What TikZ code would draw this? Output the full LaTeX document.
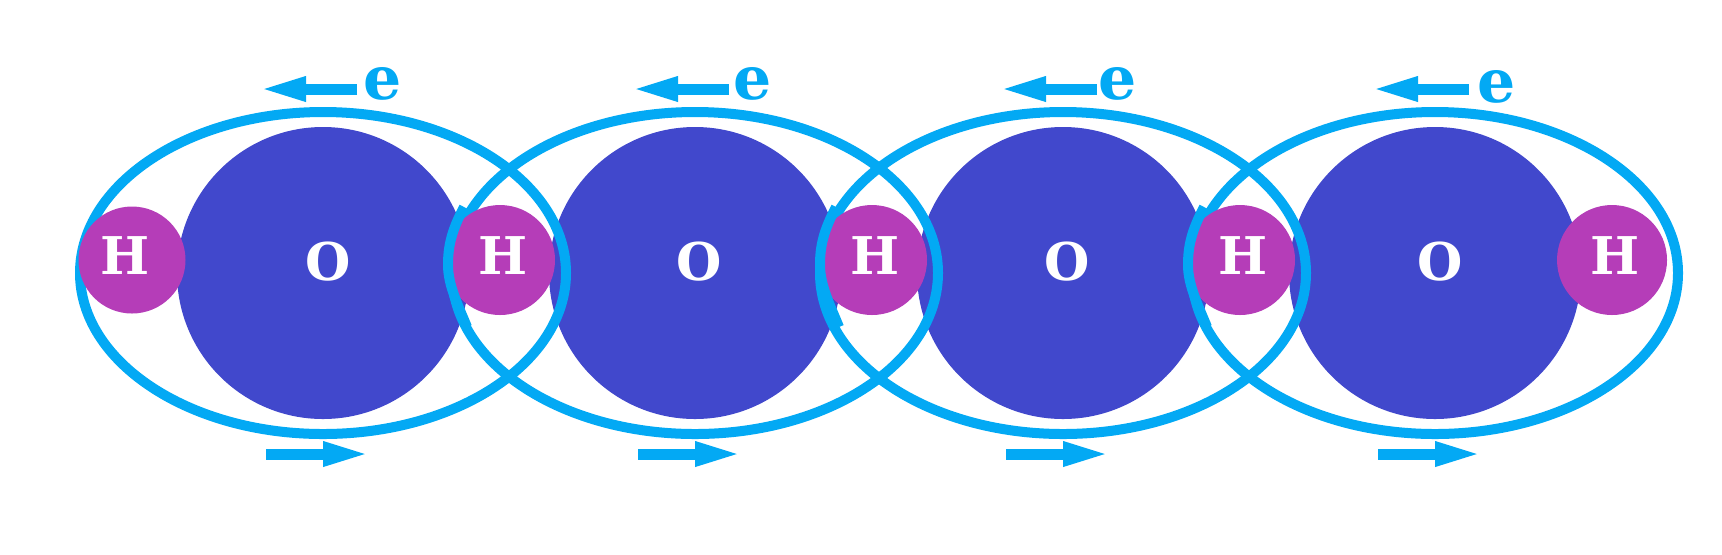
\documentclass[tikz,border=0pt]{standalone}
\usepackage{fontspec}
\setmainfont{DejaVu Serif}
\usetikzlibrary{shapes.geometric, arrows.meta}
\definecolor{orbitblue}{RGB}{3,169,244}
\definecolor{oxygenfill}{RGB}{65,72,204}
\definecolor{hydrogenfill}{RGB}{181,61,184}
\tikzset{
    oxygen/.style={circle, fill=oxygenfill, inner sep=0pt, outer sep=0pt, minimum size=146pt},
    hydrogen/.style={circle, fill=hydrogenfill, inner sep=0pt, outer sep=0pt, minimum size=55pt},
    orbit/.style={ellipse, draw=orbitblue, line width=5pt, inner sep=0pt, outer sep=0pt, minimum width=243pt, minimum height=161pt},
    bond/.style={draw=orbitblue, line width=5pt},
    drift/.style={draw=orbitblue, line width=5.5pt, -{Triangle[length=24pt, width=11pt]}},
    atomlabel/.style={text=white, font=\bfseries\fontsize{26}{26}\selectfont, inner sep=0pt},
    electron/.style={text=orbitblue, font=\bfseries\fontsize{30}{30}\selectfont, inner sep=0pt}
}
\begin{document}
\begin{tikzpicture}[x=0.5pt, y=-0.5pt]
\useasboundingbox (0,0) rectangle (1722,554);

% Oxygen atoms
\node[oxygen] (o1) at (323,273) {};
\node[oxygen] (o2) at (695,273) {};
\node[oxygen] (o3) at (1063,273) {};
\node[oxygen] (o4) at (1435,273) {};

% Electron orbits
\node[orbit] (orbit1) at (323,273) {};
\node[orbit] (orbit2) at (695,273) {};
\node[orbit] (orbit3) at (1063,273) {};
\node[orbit] (orbit4) at (1435,273) {};

% Hydrogen atoms
\node[hydrogen, minimum size=53.5pt] (h1) at (132,260) {};
\node[hydrogen] (h2) at (500,260) {};
\node[hydrogen] (h3) at (872,260) {};
\node[hydrogen] (h4) at (1240,260) {};
\node[hydrogen] (h5) at (1612,260) {};

% Orbit pieces over the hydrogen atoms
\draw[bond] (464,207) .. controls (452,230) and (448,245) .. (448,265) .. controls (448,285) and (458,305) .. (467,327);
\draw[bond] (836,207) .. controls (824,230) and (820,245) .. (820,265) .. controls (820,285) and (830,305) .. (839,327);
\draw[bond] (1204,207) .. controls (1192,230) and (1188,245) .. (1188,265) .. controls (1188,285) and (1198,305) .. (1207,327);

% Atom labels
\node[atomlabel] (lh1) at (125,256) {H};
\node[atomlabel] (lo1) at (328,262) {O};
\node[atomlabel] (lh2) at (503,256) {H};
\node[atomlabel] (lo2) at (699,262) {O};
\node[atomlabel] (lh3) at (875,256) {H};
\node[atomlabel] (lo3) at (1067,262) {O};
\node[atomlabel] (lh4) at (1243,256) {H};
\node[atomlabel] (lo4) at (1440,262) {O};
\node[atomlabel] (lh5) at (1615,256) {H};

% Electron labels
\node[electron] (e1) at (383,84) {e};
\node[electron] (e2) at (753,84) {e};
\node[electron] (e3) at (1118,84) {e};
\node[electron] (e4) at (1497,87) {e};

% Arrow ends
\coordinate (ta1) at (357,89);
\coordinate (tb1) at (258,89);
\coordinate (ta2) at (729,89);
\coordinate (tb2) at (630,89);
\coordinate (ta3) at (1097,89);
\coordinate (tb3) at (998,89);
\coordinate (ta4) at (1469,89);
\coordinate (tb4) at (1370,89);
\coordinate (ba1) at (266,454);
\coordinate (bb1) at (371,454);
\coordinate (ba2) at (638,454);
\coordinate (bb2) at (743,454);
\coordinate (ba3) at (1006,454);
\coordinate (bb3) at (1111,454);
\coordinate (ba4) at (1378,454);
\coordinate (bb4) at (1483,454);

% Arrows
\draw[drift] (ta1) -- (tb1);
\draw[drift] (ta2) -- (tb2);
\draw[drift] (ta3) -- (tb3);
\draw[drift] (ta4) -- (tb4);
\draw[drift] (ba1) -- (bb1);
\draw[drift] (ba2) -- (bb2);
\draw[drift] (ba3) -- (bb3);
\draw[drift] (ba4) -- (bb4);

\end{tikzpicture}
\end{document}
